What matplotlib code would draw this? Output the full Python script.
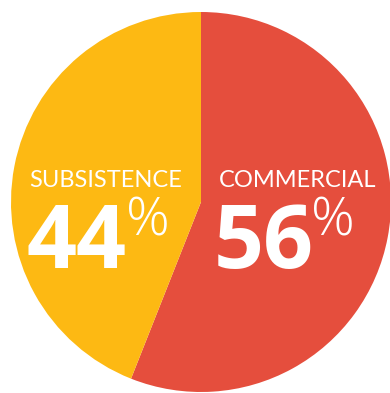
import matplotlib
matplotlib.use("Agg")
import matplotlib.pyplot as plt

labels = ["COMMERCIAL", "SUBSISTENCE"]
shares = [56, 44]
colors = ["#E54E3D", "#FDB913"]

fig = plt.figure(figsize=(3.90, 3.93), dpi=100)
ax = fig.add_axes([0, 0, 1, 1])

ax.pie(shares, colors=colors, startangle=90, counterclock=False,
       center=(201, 191), radius=190, wedgeprops=dict(linewidth=0))

# pie() resets the view, so fix the pixel-like frame afterwards
ax.set_xlim(0, 390)
ax.set_ylim(0, 393)
ax.set_aspect("equal")
ax.axis("off")

# label positions: (label x center, number left x, percent sign x)
spots = {"COMMERCIAL": (298, 214, 311), "SUBSISTENCE": (106, 27, 126)}
for name, val in zip(labels, shares):
    cx, nx, px = spots[name]
    ax.text(cx, 206, name, color="white", fontsize=17, family="Lato",
            ha="center", va="baseline")
    ax.text(nx, 125, str(val), color="white", fontsize=63, family="Open Sans",
            fontweight="bold", ha="left", va="baseline")
    ax.text(px, 157, "%", color="white", fontsize=39, family="Open Sans",
            fontweight="light", ha="left", va="baseline")

fig.savefig("out.png", dpi=100)
